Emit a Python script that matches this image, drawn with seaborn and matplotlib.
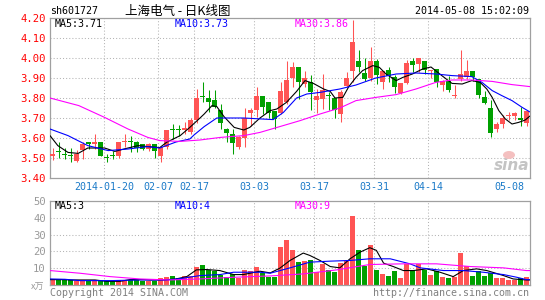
import numpy as np
import matplotlib
matplotlib.use("Agg")
import matplotlib.pyplot as plt
import seaborn as sns
from matplotlib.patches import Ellipse

# ---------------- data ----------------
opens = [3.51, 3.535, 3.52, 3.512, 3.483, 3.54, 3.58, 3.572, 3.58, 3.505,
         3.515, 3.51, 3.578, 3.585, 3.58, 3.57, 3.545, 3.57, 3.51, 3.553,
         3.645, 3.645, 3.64, 3.63, 3.69, 3.81, 3.80, 3.79, 3.74, 3.643,
         3.62, 3.553, 3.60, 3.723, 3.742, 3.812, 3.782, 3.733, 3.723, 3.782,
         3.90, 3.953, 3.87, 3.882, 3.79, 3.795, 3.815, 3.80, 3.72, 3.862,
         3.937, 3.983, 3.923, 3.90, 3.983, 3.882, 3.94, 3.903, 3.823, 3.873,
         3.983, 3.97, 3.983, 3.933, 3.945, 3.865, 3.883, 3.812, 3.895, 3.903,
         3.933, 3.895, 3.803, 3.75, 3.645, 3.67, 3.71, 3.712, 3.70, 3.675]
highs = [3.55, 3.58, 3.55, 3.55, 3.54, 3.58, 3.58, 3.62, 3.58, 3.52,
         3.535, 3.58, 3.62, 3.61, 3.585, 3.57, 3.575, 3.57, 3.556, 3.64,
         3.67, 3.665, 3.68, 3.70, 3.845, 3.88, 3.84, 3.842, 3.77, 3.65,
         3.645, 3.61, 3.75, 3.75, 3.853, 3.812, 3.782, 3.733, 3.882, 3.983,
         3.978, 3.953, 3.937, 3.915, 3.845, 3.92, 3.83, 3.80, 3.84, 3.928,
         4.19, 4.04, 4.00, 4.053, 3.995, 3.933, 3.953, 3.915, 3.873, 3.99,
         4.00, 4.00, 3.983, 3.942, 3.945, 3.89, 3.91, 3.867, 4.04, 3.99,
         3.937, 3.895, 3.835, 3.79, 3.68, 3.717, 3.73, 3.73, 3.753, 3.735]
lows = [3.49, 3.50, 3.495, 3.48, 3.478, 3.495, 3.545, 3.545, 3.51, 3.48,
        3.495, 3.50, 3.555, 3.53, 3.53, 3.54, 3.535, 3.50, 3.478, 3.545,
        3.595, 3.61, 3.62, 3.62, 3.675, 3.78, 3.728, 3.75, 3.645, 3.578,
        3.52, 3.545, 3.553, 3.66, 3.703, 3.72, 3.70, 3.645, 3.72, 3.77,
        3.853, 3.795, 3.853, 3.74, 3.727, 3.745, 3.74, 3.70, 3.68, 3.855,
        3.88, 3.928, 3.887, 3.887, 3.87, 3.845, 3.88, 3.823, 3.82, 3.87,
        3.93, 3.93, 3.92, 3.90, 3.855, 3.835, 3.83, 3.80, 3.887, 3.895,
        3.885, 3.80, 3.77, 3.607, 3.63, 3.652, 3.69, 3.69, 3.66, 3.66]
closes = [3.52, 3.53, 3.515, 3.51, 3.52, 3.57, 3.572, 3.58, 3.512, 3.50,
          3.51, 3.58, 3.585, 3.58, 3.55, 3.545, 3.57, 3.537, 3.556, 3.64,
          3.64, 3.64, 3.652, 3.69, 3.80, 3.805, 3.782, 3.757, 3.673, 3.623,
          3.573, 3.605, 3.70, 3.742, 3.812, 3.753, 3.723, 3.693, 3.833, 3.892,
          3.953, 3.882, 3.90, 3.828, 3.812, 3.842, 3.81, 3.74, 3.83, 3.90,
          4.082, 3.953, 3.895, 3.983, 3.915, 3.933, 3.912, 3.853, 3.873, 3.973,
          3.963, 4.00, 3.942, 3.942, 3.878, 3.887, 3.84, 3.817, 3.92, 3.933,
          3.903, 3.817, 3.773, 3.623, 3.67, 3.70, 3.715, 3.725, 3.69, 3.733]
volumes = [3.6, 3.0, 3.0, 3.0, 2.6, 2.6, 2.6, 2.6, 2.6, 2.2,
           2.2, 3.2, 3.2, 3.0, 3.0, 2.6, 2.6, 2.6, 4.2, 4.6,
           5.6, 4.2, 5.6, 5.2, 11.0, 12.2, 9.0, 8.2, 6.2, 5.0,
           6.6, 4.2, 9.0, 8.6, 11.0, 7.0, 5.0, 5.0, 22.6, 26.6,
           20.6, 13.6, 14.0, 14.6, 7.6, 12.6, 9.0, 7.6, 13.0, 14.2,
           41.0, 20.6, 11.6, 23.6, 9.2, 6.6, 5.6, 8.2, 4.0, 12.6,
           9.0, 12.6, 9.0, 6.2, 8.6, 4.6, 4.0, 4.6, 19.0, 11.6,
           5.6, 8.2, 5.6, 7.0, 4.0, 4.0, 3.2, 3.2, 4.0, 5.0]

ma5_idx = [0, 1.3, 3, 4.7, 6.3, 9.1, 10.8, 13, 14.7, 16.3, 18.3, 19.4, 21.7, 23.3, 25,
           25.7, 27, 27.8, 29, 30.7, 32.3, 33.3, 35, 36.7, 37.8, 39.4, 41.1, 42.5,
           43.9, 45.6, 46.7, 47.5, 48.8, 49.8, 51, 52.1, 53.8, 54.9, 56, 57.7, 58.8,
           60.4, 62.1, 63.5, 65.3, 67, 68.7, 70.3, 71.7, 72.8, 73.7, 74.8, 75.9, 77,
           78.1, 79.2, 80]
ma5_val = [3.612, 3.562, 3.528, 3.523, 3.55, 3.55, 3.533, 3.55, 3.562, 3.557, 3.552,
           3.578, 3.612, 3.653, 3.70, 3.72, 3.762, 3.757, 3.707, 3.653, 3.64, 3.653,
           3.70, 3.737, 3.745, 3.778, 3.833, 3.887, 3.873, 3.845, 3.833, 3.80, 3.803,
           3.857, 3.903, 3.937, 3.962, 3.953, 3.92, 3.887, 3.903, 3.92, 3.945, 3.955,
           3.912, 3.873, 3.87, 3.887, 3.878, 3.845, 3.803, 3.737, 3.695, 3.67, 3.678,
           3.69, 3.71]
ma10_idx = [0, 3, 6.3, 9.7, 13, 16.3, 18.3, 21, 23.3, 24, 25.7, 27.8, 32.3, 37.2, 38.9,
            41.1, 42.8, 45, 48.3, 51, 54.3, 57.7, 61, 64.3, 67, 70.3, 72, 73.7, 75.3,
            77, 78.7, 80]
ma10_val = [3.645, 3.612, 3.562, 3.537, 3.545, 3.557, 3.55, 3.58, 3.595, 3.615, 3.657,
            3.70, 3.70, 3.692, 3.728, 3.80, 3.82, 3.828, 3.845, 3.865, 3.90, 3.92,
            3.925, 3.92, 3.912, 3.907, 3.878, 3.837, 3.812, 3.787, 3.753, 3.73]
ma30_idx = [0, 4.8, 9.1, 13, 16.3, 18.3, 21.7, 25, 28.4, 32.3, 35, 38.3, 41.7, 45, 48.3,
            51, 54.3, 57.7, 61, 64.3, 67, 70.3, 73.7, 77, 80]
ma30_val = [3.80, 3.762, 3.703, 3.645, 3.603, 3.587, 3.583, 3.59, 3.603, 3.612, 3.628,
            3.657, 3.687, 3.72, 3.75, 3.787, 3.803, 3.817, 3.845, 3.878, 3.89, 3.89,
            3.883, 3.867, 3.857]

vma5_idx = [0, 2.5, 3.3, 7.5, 9.4, 11.7, 13.3, 15.6, 16.7, 18.9, 21, 22.8, 24.4, 26.1,
            28.3, 30.6, 32.2, 35, 36.7, 38.3, 40, 42.2, 43.3, 45, 46.7, 48.3, 50, 51.7,
            53.3, 54.4, 55.6, 57.2, 58.9, 60.6, 62.8, 65, 67.2, 68.9, 71.1, 72.8, 75.6,
            77.2, 79.4, 80]
vma5_val = [3.2, 3.2, 3.0, 3.0, 2.2, 2.2, 3.2, 3.2, 3.0, 3.0, 3.6, 5.0, 9.0, 9.2, 8.6,
            6.2, 6.2, 8.2, 7.2, 10.0, 14.6, 19.0, 17.6, 14.6, 11.0, 10.2, 15.6, 19.6,
            22.2, 20.6, 13.0, 11.0, 8.6, 8.6, 9.6, 7.6, 5.0, 8.6, 9.6, 8.6, 5.6, 3.6,
            3.0, 3.0]
vma10_idx = [0, 2.5, 5, 10, 15, 19.4, 21.7, 25, 28.3, 30.6, 35, 36.7, 40, 43.3, 46.7,
             50, 53.3, 56.7, 60, 61.7, 65.6, 68.9, 72.2, 75.6, 77.8, 79.4, 80]
vma10_val = [3.6, 3.4, 2.6, 2.6, 3.0, 3.0, 3.8, 5.6, 6.2, 7.6, 7.6, 7.0, 10.2, 13.6,
             14.2, 14.6, 15.6, 15.6, 12.6, 10.2, 8.6, 8.6, 7.6, 6.2, 4.6, 3.2, 3.2]
vma30_idx = [0, 5, 10, 15, 20, 25, 30.6, 36.7, 42.2, 47.8, 53.3, 58.9, 64.4, 70, 75.6,
             79.4, 80]
vma30_val = [8.6, 7.0, 5.0, 3.6, 3.0, 3.6, 4.6, 5.4, 6.6, 9.0, 12.2, 12.6, 12.6, 11.0,
             10.2, 8.6, 8.6]

tick_idx = [9, 18, 24, 34, 44, 54, 63, 79]
tick_labels = ["2014-01-20", "02-07", "02-17", "03-03", "03-17", "03-31", "04-14", "05-08"]
price_ticks = [3.40, 3.50, 3.60, 3.70, 3.80, 3.90, 4.00, 4.10, 4.20]
vol_ticks = [10, 20, 30, 40, 50]

# ---------------- style ----------------
sns.set_style("white")
plt.rcParams['font.family'] = ['DejaVu Sans Mono', 'Noto Sans CJK SC']

RED = "#ff5454"
GREEN = "#00a000"
GRID = "#b4b4b4"
FRAME = "#a0a0a0"
BLUE_TXT = "#1a7ac8"
LW = 0.75
FS = 7.2

W, H = 545, 300
fig = plt.figure(figsize=(W / 100, H / 100), dpi=100)
fig.patch.set_facecolor("white")


def rect(l, t, r, b):
    return [l / W, 1 - b / H, (r - l) / W, (b - t) / H]


ax = fig.add_axes(rect(50, 18, 530, 178))
axv = fig.add_axes(rect(50, 201, 530, 285))

o = np.array(opens); h = np.array(highs); lo = np.array(lows); c = np.array(closes)
v = np.array(volumes)
idx = np.arange(len(o))
up = c >= o
colors = np.where(up, RED, GREEN)
xc = idx + 0.42
bw = 0.83

for a in (ax, axv):
    a.set_xlim(0, 80)
    for s in a.spines.values():
        s.set_color(FRAME)
        s.set_linewidth(0.9)
    for t in tick_idx[:-1]:
        a.axvline(t, color=GRID, lw=LW, ls=(0, (1, 2)), zorder=0)

# price panel
ax.set_ylim(3.40, 4.20)
for p in price_ticks[1:-1]:
    ax.axhline(p, color=GRID, lw=LW, ls=(0, (1, 2)), zorder=0)
ax.vlines(xc, lo, h, colors=colors, lw=LW, zorder=2)
body_h = np.maximum(np.abs(c - o), 0.005)
ax.bar(xc, body_h, bottom=np.minimum(o, c), width=bw, color=colors, linewidth=0, zorder=3)

sns.lineplot(x=ma5_idx, y=ma5_val, ax=ax, color="black", lw=0.8, estimator=None, sort=False, zorder=4)
sns.lineplot(x=ma10_idx, y=ma10_val, ax=ax, color="#0000ff", lw=0.8, estimator=None, sort=False, zorder=4)
sns.lineplot(x=ma30_idx, y=ma30_val, ax=ax, color="#ff00ff", lw=0.8, estimator=None, sort=False, zorder=4)

ax.set_yticks(price_ticks)
ax.set_yticklabels([f"{p:.2f}" for p in price_ticks])
ax.tick_params(axis="y", length=0, pad=3, labelsize=FS + 0.4, labelcolor="red")
ax.set_xticks(tick_idx)
ax.set_xticklabels(tick_labels)
ax.tick_params(axis="x", length=0, pad=3, labelsize=FS, labelcolor=BLUE_TXT)
ax.get_xticklabels()[-1].set_ha("right")
ax.set_xlabel(""); ax.set_ylabel("")

# volume panel
axv.set_ylim(0, 50)
for t in vol_ticks[:-1]:
    axv.axhline(t, color=GRID, lw=LW, ls=(0, (1, 2)), zorder=0)
axv.bar(xc, v, width=bw, color=colors, linewidth=0, zorder=2)
sns.lineplot(x=vma5_idx, y=vma5_val, ax=axv, color="black", lw=0.8, estimator=None, sort=False, zorder=4)
sns.lineplot(x=vma10_idx, y=vma10_val, ax=axv, color="#0000ff", lw=0.8, estimator=None, sort=False, zorder=4)
sns.lineplot(x=vma30_idx, y=vma30_val, ax=axv, color="#ff00ff", lw=0.8, estimator=None, sort=False, zorder=4)
axv.set_yticks(vol_ticks)
axv.set_yticklabels([str(t) for t in vol_ticks])
axv.tick_params(axis="y", length=0, pad=3, labelsize=FS + 0.4, labelcolor="#999999")
axv.set_xticks([])
axv.set_xlabel(""); axv.set_ylabel("")


def ftext(x, y, s, **kw):
    fig.text(x / W, 1 - y / H, s, **kw)


# header
ftext(50, 11.5, "sh601727", fontsize=FS, color="black", va="center", ha="left")
ftext(178, 11.5, "上海电气 - 日K线图", fontsize=9, color="black", va="center", ha="center",
      family=["Noto Sans CJK SC", "DejaVu Sans"])
ftext(529, 11.5, "2014-05-08 15:02:09", fontsize=FS, color="black", va="center", ha="right")

# MA labels
ftext(55, 24, "MA5:3.71", fontsize=FS, color="black", va="center")
ftext(175, 24, "MA10:3.73", fontsize=FS, color="#0000ff", va="center")
ftext(295, 24, "MA30:3.86", fontsize=FS, color="#ff00ff", va="center")
ftext(55, 206, "MA5:3", fontsize=FS, color="black", va="center")
ftext(175, 206, "MA10:4", fontsize=FS, color="#0000ff", va="center")
ftext(295, 206, "MA30:9", fontsize=FS, color="#ff00ff", va="center")

# unit + footer
ftext(44, 287, "x万", fontsize=6.5, color="#999999", va="center", ha="right",
      family=["Noto Sans CJK SC", "DejaVu Sans"])
ftext(50, 293, "Copyright 2014 SINA.COM", fontsize=FS, color="#808080", va="center", ha="left")
ftext(529, 293, "http://finance.sina.com.cn", fontsize=FS, color="#808080", va="center", ha="right")

# sina watermark
ftext(512, 166, "sina", fontsize=11, color="#c4c4c4", va="center", ha="center",
      style="italic", weight="bold", family=["DejaVu Sans"])
fig.patches.append(Ellipse((509 / W, 1 - 155 / H), 12 / W, 8 / H, transform=fig.transFigure,
                           facecolor="#f4c0c0", edgecolor="none", zorder=5))

fig.savefig("out.png", dpi=100, facecolor="white")
